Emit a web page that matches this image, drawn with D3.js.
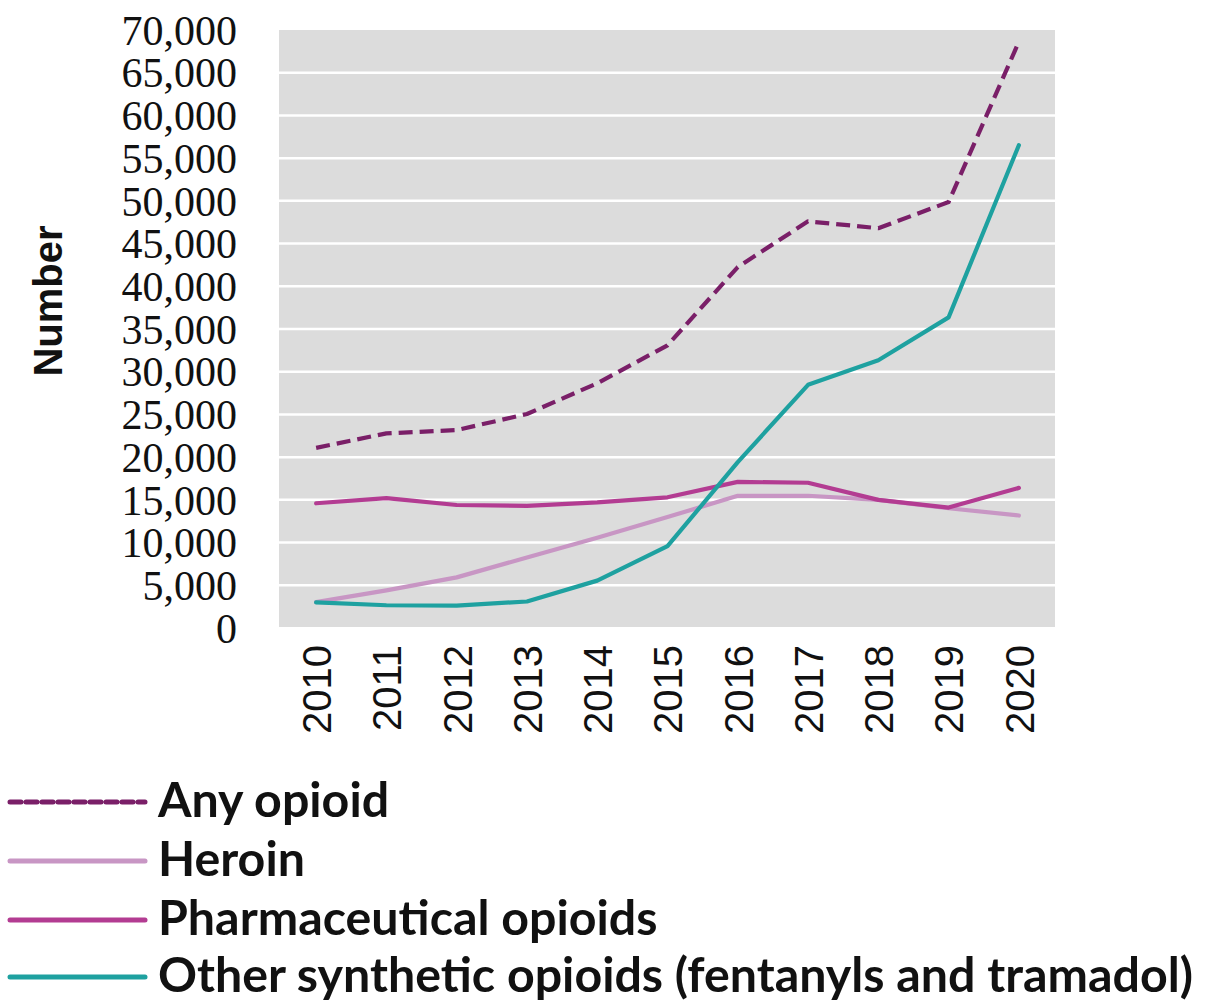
<!DOCTYPE html>
<html>
<head>
<meta charset="utf-8">
<script src="https://cdn.jsdelivr.net/npm/d3@7"></script>
<style>
  html, body { margin: 0; padding: 0; background: #fff; }
  svg { display: block; }
</style>
</head>
<body>
<svg id="chart" width="1209" height="1004"></svg>
<script>
const years = [2010, 2011, 2012, 2013, 2014, 2015, 2016, 2017, 2018, 2019, 2020];
const anyOpioid = [21089, 22784, 23166, 25052, 28647, 33091, 42249, 47600, 46802, 49860, 68630];
const heroin = [3036, 4397, 5925, 8257, 10574, 12989, 15469, 15482, 14996, 14019, 13165];
const pharmaceutical = [14600, 15200, 14400, 14300, 14700, 15300, 17100, 17000, 15000, 14100, 16400];
const otherSynthetic = [3007, 2666, 2628, 3105, 5544, 9580, 19413, 28466, 31335, 36359, 56516];
const yTicks = [0, 5000, 10000, 15000, 20000, 25000, 30000, 35000, 40000, 45000, 50000, 55000, 60000, 65000, 70000];
const seriesNames = ["Any opioid", "Heroin", "Pharmaceutical opioids", "Other synthetic opioids (fentanyls and tramadol)"];
const seriesColors = ["#7a1f68", "#c896c4", "#b33c92", "#1ea1a0"];

const series = [anyOpioid, heroin, pharmaceutical, otherSynthetic].map((vals, i) => ({
  name: seriesNames[i], color: seriesColors[i], dashed: i === 0,
  values: vals.map((v, j) => ({ year: years[j], value: v }))
}));

const svg = d3.select("#chart");
const plot = { left: 279, right: 1055, top: 30, bottom: 627 };

const x = d3.scalePoint().domain(years).range([281, 1054]).padding(0.5);
const y = d3.scaleLinear().domain([0, 70000]).range([628, 30]);

// plot background
svg.append("rect")
  .attr("x", plot.left).attr("y", plot.top)
  .attr("width", plot.right - plot.left).attr("height", plot.bottom - plot.top)
  .attr("fill", "#dcdcdc");

// gridlines
svg.append("g").selectAll("line")
  .data(yTicks.filter(t => t > 0 && t < 70000))
  .join("line")
  .attr("x1", plot.left).attr("x2", plot.right)
  .attr("y1", d => y(d)).attr("y2", d => y(d))
  .attr("stroke", "#ffffff").attr("stroke-width", 2.5);

// y axis
const yAxis = d3.axisLeft(y).tickValues(yTicks).tickFormat(d3.format(",")).tickSize(0).tickPadding(0);
const yg = svg.append("g").attr("transform", "translate(237,0)").call(yAxis);
yg.select(".domain").remove();
yg.selectAll("text")
  .attr("font-family", "'Liberation Serif', 'Times New Roman', serif")
  .attr("font-size", 42).attr("fill", "#111").attr("dy", "0.34em");

// x axis
const xAxis = d3.axisBottom(x).tickSize(0).tickPadding(0);
const xg = svg.append("g").attr("transform", "translate(0,645)").call(xAxis);
xg.select(".domain").remove();
xg.selectAll("text")
  .attr("font-family", "'Liberation Sans', Arial, sans-serif")
  .attr("font-size", 40).attr("fill", "#111")
  .attr("transform", "rotate(-90)")
  .attr("text-anchor", "end")
  .attr("x", 0).attr("y", 0).attr("dy", "0.36em");

// y axis title
svg.append("text")
  .attr("transform", "translate(62,301) rotate(-90)")
  .attr("text-anchor", "middle")
  .attr("font-family", "'Liberation Sans', Arial, sans-serif")
  .attr("font-weight", "bold").attr("font-size", 40).attr("fill", "#111")
  .text("Number");

// lines
const line = d3.line()
  .x(d => x(d.year)).y(d => y(d.value))
  .curve(d3.curveLinear);

svg.append("g").selectAll("path")
  .data(series)
  .join("path")
  .attr("d", d => line(d.values))
  .attr("fill", "none")
  .attr("stroke", d => d.color)
  .attr("stroke-width", 4.2)
  .attr("stroke-linejoin", "round")
  .attr("stroke-linecap", d => d.dashed ? "butt" : "round")
  .attr("stroke-dasharray", d => d.dashed ? "14,7" : null);

// legend
const legendY = [802, 861, 920, 977];
const lg = svg.append("g").selectAll("g").data(series).join("g")
  .attr("transform", (d, i) => `translate(0,${legendY[i]})`);
lg.append("line")
  .attr("x1", 10).attr("x2", 145).attr("y1", 0).attr("y2", 0)
  .attr("stroke", d => d.color).attr("stroke-width", 5)
  .attr("stroke-linecap", "round")
  .attr("stroke-dasharray", d => d.dashed ? "11,5" : null);
const lt = lg.append("text")
  .attr("x", 158).attr("y", 0).attr("dy", "0.32em")
  .attr("font-family", "Lato, 'Open Sans', sans-serif")
  .attr("font-weight", "bold").attr("font-size", 42).attr("fill", "#111")
  .text(d => d.name);
// fit legend font size so the longest entry spans the reference width
const longest = lt.filter((d, i) => i === 3).node();
const w = longest.getComputedTextLength();
const fs = 42 * 1035 / w;
lt.attr("font-size", fs);
</script>
</body>
</html>
